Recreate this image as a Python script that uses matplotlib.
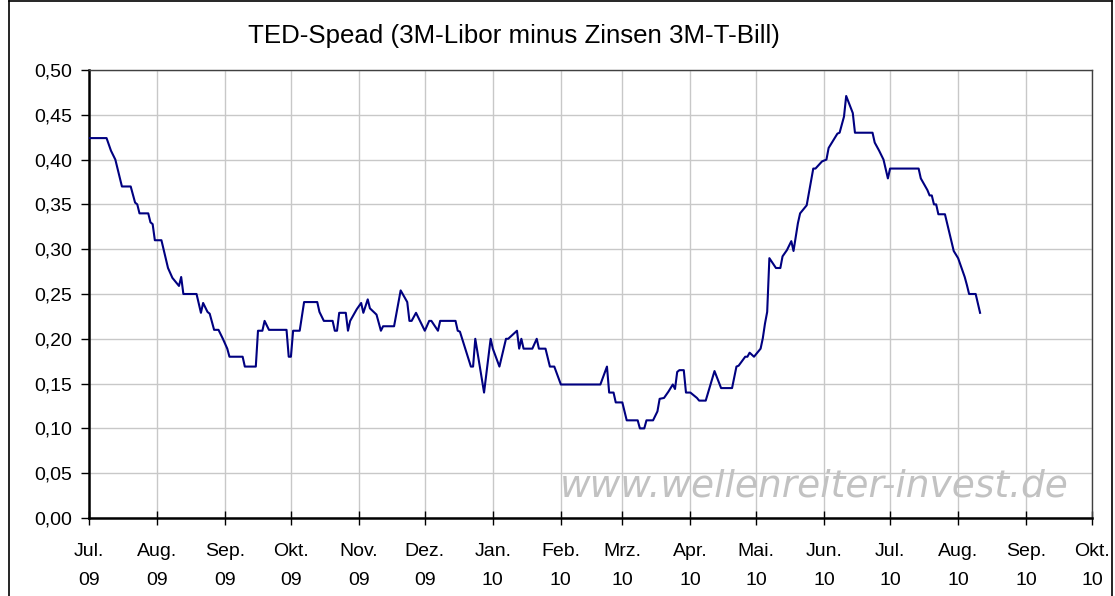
import matplotlib
matplotlib.use("Agg")
import matplotlib.pyplot as plt
from matplotlib.ticker import FuncFormatter, MultipleLocator
from matplotlib.lines import Line2D
import pandas as pd

dates = [
    "2009-07-01", "2009-07-09", "2009-07-11", "2009-07-13", "2009-07-16", "2009-07-20",
    "2009-07-22", "2009-07-23", "2009-07-24", "2009-07-28", "2009-07-29", "2009-07-30",
    "2009-07-31", "2009-08-03", "2009-08-06", "2009-08-08", "2009-08-11", "2009-08-12",
    "2009-08-13", "2009-08-19", "2009-08-21", "2009-08-22", "2009-08-24", "2009-08-25",
    "2009-08-27", "2009-08-29", "2009-08-31", "2009-09-02", "2009-09-03", "2009-09-09",
    "2009-09-10", "2009-09-15", "2009-09-16", "2009-09-18", "2009-09-19", "2009-09-21",
    "2009-09-29", "2009-09-30", "2009-10-01", "2009-10-02", "2009-10-05", "2009-10-07",
    "2009-10-13", "2009-10-14", "2009-10-16", "2009-10-20", "2009-10-21", "2009-10-22",
    "2009-10-23", "2009-10-26", "2009-10-27", "2009-10-28", "2009-10-31", "2009-11-02",
    "2009-11-03", "2009-11-05", "2009-11-06", "2009-11-09", "2009-11-11", "2009-11-12",
    "2009-11-17", "2009-11-20", "2009-11-23", "2009-11-24", "2009-11-25", "2009-11-27",
    "2009-12-01", "2009-12-03", "2009-12-04", "2009-12-07", "2009-12-08", "2009-12-15",
    "2009-12-16", "2009-12-17", "2009-12-22", "2009-12-23", "2009-12-24", "2009-12-28",
    "2009-12-31", "2010-01-01", "2010-01-04", "2010-01-07", "2010-01-08", "2010-01-12",
    "2010-01-13", "2010-01-14", "2010-01-15", "2010-01-19", "2010-01-21", "2010-01-22",
    "2010-01-25", "2010-01-27", "2010-01-29", "2010-02-01", "2010-02-19", "2010-02-22",
    "2010-02-23", "2010-02-25", "2010-02-26", "2010-03-01", "2010-03-03", "2010-03-08",
    "2010-03-09", "2010-03-11", "2010-03-12", "2010-03-15", "2010-03-17", "2010-03-18",
    "2010-03-20", "2010-03-22", "2010-03-24", "2010-03-25", "2010-03-26", "2010-03-27",
    "2010-03-29", "2010-03-30", "2010-04-01", "2010-04-04", "2010-04-05", "2010-04-08",
    "2010-04-12", "2010-04-15", "2010-04-20", "2010-04-22", "2010-04-23", "2010-04-26",
    "2010-04-27", "2010-04-28", "2010-04-30", "2010-05-03", "2010-05-04", "2010-05-05",
    "2010-05-06", "2010-05-07", "2010-05-10", "2010-05-12", "2010-05-13", "2010-05-15",
    "2010-05-17", "2010-05-18", "2010-05-20", "2010-05-21", "2010-05-24", "2010-05-27",
    "2010-05-28", "2010-05-31", "2010-06-02", "2010-06-03", "2010-06-07", "2010-06-08",
    "2010-06-10", "2010-06-11", "2010-06-14", "2010-06-15", "2010-06-23", "2010-06-24",
    "2010-06-26", "2010-06-28", "2010-06-30", "2010-07-01", "2010-07-14", "2010-07-15",
    "2010-07-18", "2010-07-19", "2010-07-20", "2010-07-21", "2010-07-22", "2010-07-23",
    "2010-07-26", "2010-07-30", "2010-08-01", "2010-08-04", "2010-08-05", "2010-08-06",
    "2010-08-09", "2010-08-11",
]

ted_spread = [
    0.424, 0.424, 0.41, 0.40, 0.37, 0.37,
    0.352, 0.35, 0.34, 0.34, 0.33, 0.328,
    0.31, 0.31, 0.279, 0.268, 0.259, 0.269,
    0.25, 0.25, 0.229, 0.24, 0.23, 0.228,
    0.21, 0.21, 0.20, 0.189, 0.18, 0.18,
    0.169, 0.169, 0.209, 0.209, 0.22, 0.21,
    0.21, 0.18, 0.18, 0.209, 0.209, 0.241,
    0.241, 0.23, 0.22, 0.22, 0.209, 0.209,
    0.229, 0.229, 0.209, 0.22, 0.233, 0.24,
    0.229, 0.244, 0.234, 0.227, 0.209, 0.214,
    0.214, 0.254, 0.241, 0.22, 0.22, 0.229,
    0.209, 0.22, 0.22, 0.209, 0.22, 0.22,
    0.209, 0.208, 0.169, 0.169, 0.20, 0.14,
    0.20, 0.189, 0.169, 0.20, 0.20, 0.209,
    0.189, 0.20, 0.189, 0.189, 0.20, 0.189,
    0.189, 0.169, 0.169, 0.149, 0.149, 0.169,
    0.14, 0.14, 0.129, 0.129, 0.109, 0.109,
    0.10, 0.10, 0.109, 0.109, 0.119, 0.133,
    0.134, 0.141, 0.149, 0.144, 0.163, 0.165,
    0.165, 0.14, 0.14, 0.134, 0.131, 0.131,
    0.164, 0.145, 0.145, 0.169, 0.17, 0.18,
    0.18, 0.1845, 0.18, 0.189, 0.2005, 0.217,
    0.23, 0.29, 0.279, 0.279, 0.292, 0.299,
    0.309, 0.298, 0.329, 0.34, 0.349, 0.39,
    0.39, 0.398, 0.40, 0.413, 0.429, 0.43,
    0.448, 0.471, 0.452, 0.43, 0.43, 0.419,
    0.41, 0.40, 0.379, 0.39, 0.39, 0.379,
    0.366, 0.36, 0.36, 0.35, 0.35, 0.339,
    0.339, 0.298, 0.29, 0.269, 0.26, 0.25,
    0.25, 0.229,
]

month_ticks = pd.date_range("2009-07-01", "2010-10-01", freq="MS")
month_names = ["Jul.", "Aug.", "Sep.", "Okt.", "Nov.", "Dez.", "Jan.", "Feb.",
               "Mrz.", "Apr.", "Mai.", "Jun.", "Jul.", "Aug.", "Sep.", "Okt."]
year_labels = ["09", "09", "09", "09", "09", "09", "10", "10",
               "10", "10", "10", "10", "10", "10", "10", "10"]

title_text = "TED-Spead (3M-Libor minus Zinsen 3M-T-Bill)"
watermark = "www.wellenreiter-invest.de"

plt.rcParams["font.family"] = ["Liberation Sans", "DejaVu Sans"]

W, H = 1115, 596
fig = plt.figure(figsize=(W / 100, H / 100), dpi=100)
ax = fig.add_axes([89 / W, 1 - 518 / H, (1092 - 89) / W, (518 - 70) / H])

x = pd.to_datetime(dates)
ax.plot(x, ted_spread, color="#000080", lw=1.5, zorder=3)

ax.set_xlim(month_ticks[0], month_ticks[-1])
ax.set_ylim(0, 0.5)
ax.yaxis.set_major_locator(MultipleLocator(0.05))
ax.yaxis.set_major_formatter(FuncFormatter(lambda v, p: f"{v:.2f}".replace(".", ",")))
ax.set_xticks(month_ticks)
ax.set_xticklabels([f"{m}\n{yy}" for m, yy in zip(month_names, year_labels)],
                   linespacing=1.95)

ax.grid(True, color="#c8c8c8", lw=1.0, zorder=0)
ax.set_axisbelow(True)

for s in ["top", "right"]:
    ax.spines[s].set_color("#404040")
    ax.spines[s].set_linewidth(1.0)
for s in ["left", "bottom"]:
    ax.spines[s].set_color("black")
    ax.spines[s].set_linewidth(1.8)

ax.tick_params(axis="y", direction="out", length=6, width=1, pad=6,
               labelsize=14, colors="black")
ax.tick_params(axis="x", direction="inout", length=10, width=1, pad=13,
               labelsize=14, colors="black")

fig.text(514 / W, 1 - 36 / H, title_text, ha="center", va="center", fontsize=18.6)

ax.text(0.977, 0.07, watermark, transform=ax.transAxes, ha="right", va="center",
        fontsize=27, style="italic", family="DejaVu Sans", color="#c2c2c2", zorder=2)

# outer frame
fig.add_artist(Line2D([9 / W, 9 / W], [0, 1 - 1 / H], color="black", lw=1.2))
fig.add_artist(Line2D([9 / W, 1112 / W], [1 - 1 / H, 1 - 1 / H], color="black", lw=1.2))
fig.add_artist(Line2D([1112 / W, 1112 / W], [0, 1 - 1 / H], color="black", lw=1.2))

fig.savefig("out.png", dpi=100)
